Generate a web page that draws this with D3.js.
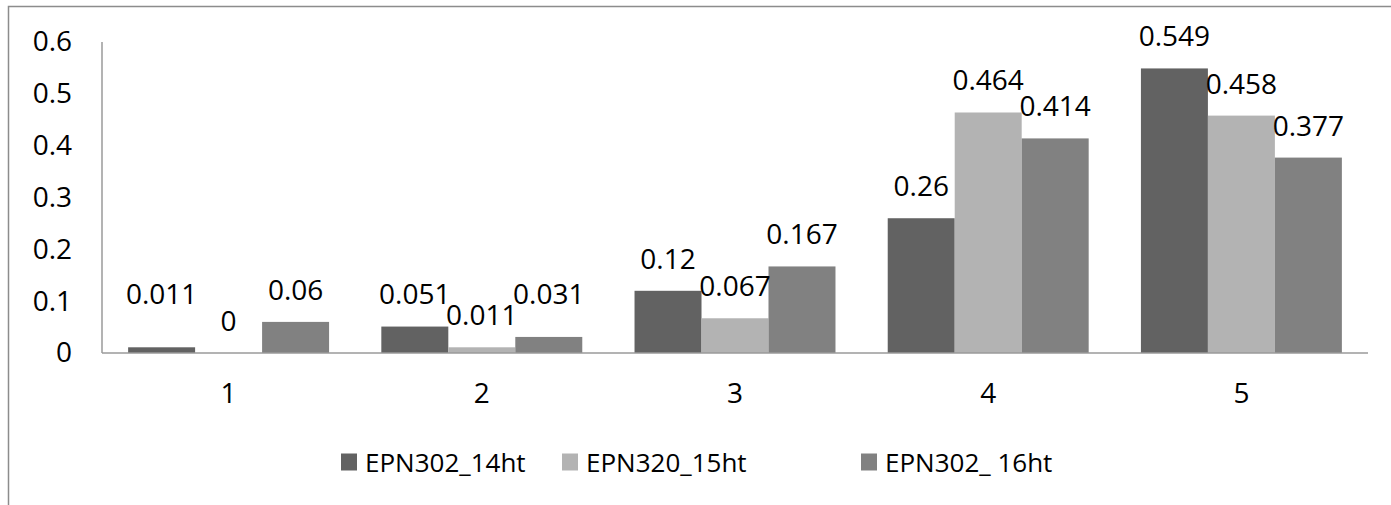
<!DOCTYPE html>
<html>
<head>
<meta charset="utf-8">
<title>EPN chart</title>
<style>
  body { margin: 0; background: #fff; }
  svg text { font-family: "Open Sans", sans-serif; fill: #000; }
</style>
</head>
<body>
<div id="chart"></div>
<script src="https://cdn.jsdelivr.net/npm/d3@7"></script>
<script>
// data
var categories = ["1", "2", "3", "4", "5"];
var seriesNames = ["EPN302_14ht", "EPN320_15ht", "EPN302_ 16ht"];
var seriesColors = ["#626262", "#b3b3b3", "#818181"];
var epn302_14 = [0.011, 0.051, 0.12, 0.26, 0.549];
var epn320_15 = [0, 0.011, 0.067, 0.464, 0.458];
var epn302_16 = [0.06, 0.031, 0.167, 0.414, 0.377];
var yTicks = [0, 0.1, 0.2, 0.3, 0.4, 0.5, 0.6];

var seriesValues = [epn302_14, epn320_15, epn302_16];

var W = 1391, H = 505;
var svg = d3.select("#chart").append("svg").attr("width", W).attr("height", H);

// outer chart frame (runs off the right and bottom edges)
svg.append("rect")
   .attr("x", 8.5).attr("y", 6.5).attr("width", 1420).attr("height", 600)
   .attr("fill", "none").attr("stroke", "#8c8c8c").attr("stroke-width", 1.5);

var x = d3.scaleBand().domain(categories).range([102, 1368]);
var xs = d3.scaleBand().domain(d3.range(seriesNames.length))
           .range([0, x.bandwidth()]).paddingOuter(0.39);
var y = d3.scaleLinear().domain([0, 0.6]).range([353, 42]);

// y axis labels
var yAxis = svg.append("g").attr("transform", "translate(102,0)")
  .call(d3.axisLeft(y).tickValues(yTicks).tickSize(0).tickPadding(30).tickFormat(d3.format("")));
yAxis.select(".domain").remove();
yAxis.selectAll("text").style("font-size", "28px").attr("font-family", null);

// x axis labels
var xAxis = svg.append("g").attr("transform", "translate(0,353)")
  .call(d3.axisBottom(x).tickSize(0).tickPadding(30));
xAxis.select(".domain").remove();
xAxis.selectAll("text").style("font-size", "28px").attr("font-family", null);

// bars
var rows = [];
categories.forEach(function(c, i) {
  seriesValues.forEach(function(vals, s) {
    rows.push({ cat: c, s: s, v: vals[i] });
  });
});

svg.append("g").selectAll("rect").data(rows).enter().append("rect")
   .attr("x", function(d) { return x(d.cat) + xs(d.s); })
   .attr("y", function(d) { return y(d.v); })
   .attr("width", xs.bandwidth())
   .attr("height", function(d) { return y(0) - y(d.v); })
   .attr("fill", function(d) { return seriesColors[d.s]; });

// axis lines
svg.append("line").attr("x1", 102).attr("x2", 102).attr("y1", y(0.6)).attr("y2", y(0))
   .attr("stroke", "#9a9a9a").attr("stroke-width", 1.5);
svg.append("line").attr("x1", 102).attr("x2", 1368).attr("y1", y(0)).attr("y2", y(0))
   .attr("stroke", "#9a9a9a").attr("stroke-width", 1.5);

// data labels: just above the bar, outer ones kept clear of the middle label
svg.append("g").selectAll("text").data(rows).enter().append("text")
   .attr("x", function(d) { return x(d.cat) + xs(d.s) + xs.bandwidth() / 2; })
   .attr("y", function(d) {
     var ly = y(d.v) - 33;
     if (d.s !== 1) ly = Math.min(ly, y(0) - 60);
     return ly;
   })
   .attr("text-anchor", "middle")
   .attr("dominant-baseline", "central")
   .style("font-size", "28px")
   .text(function(d) { return d.v; });

// legend
var legendX = [341, 562, 861];
var legend = svg.append("g").selectAll("g").data(seriesNames).enter().append("g")
   .attr("transform", function(d, i) { return "translate(" + legendX[i] + ",462)"; });
legend.append("rect").attr("x", 0).attr("y", -8.5).attr("width", 16).attr("height", 17)
   .attr("fill", function(d, i) { return seriesColors[i]; });
legend.append("text").attr("x", 24).attr("y", 0)
   .attr("dominant-baseline", "central")
   .style("font-size", "26px")
   .text(function(d) { return d; });
</script>
</body>
</html>
